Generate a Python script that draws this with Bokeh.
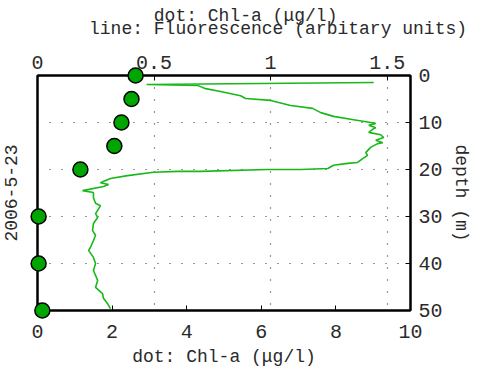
from bokeh.plotting import figure
from bokeh.models import Range1d, LinearAxis, FixedTicker
from bokeh.embed import file_html
from bokeh.resources import INLINE

# ---- data ----
chl_depth = [0, 5, 10, 15, 20, 30, 40, 50]
chl_value = [2.63, 2.52, 2.25, 2.06, 1.15, 0.03, 0.03, 0.13]

fl_value = [1.442, 0.468, 0.687, 0.721, 0.785, 0.871, 0.893, 1.000, 1.086, 1.180,
            1.215, 1.270, 1.356, 1.429, 1.451, 1.421, 1.451, 1.442, 1.421, 1.472,
            1.485, 1.451, 1.481, 1.459, 1.429, 1.408, 1.416, 1.395, 1.373, 1.330,
            1.270, 1.245, 1.129, 0.987, 0.700, 0.601, 0.498, 0.386, 0.313, 0.270,
            0.305, 0.283, 0.193, 0.240, 0.240, 0.249, 0.270, 0.258, 0.249, 0.258,
            0.240, 0.236, 0.249, 0.240, 0.227, 0.219, 0.240, 0.249, 0.240, 0.258,
            0.249, 0.279, 0.283, 0.300, 0.313]
fl_depth = [1.5, 1.9, 2.1, 2.8, 3.4, 4.3, 4.9, 5.3, 6.4, 7.0,
            7.9, 8.7, 9.4, 10.0, 10.2, 10.6, 11.1, 11.3, 12.1, 12.6,
            13.2, 13.8, 14.3, 14.5, 15.3, 16.4, 17.0, 17.7, 18.5, 18.7,
            19.1, 19.8, 20.0, 20.0, 20.4, 20.4, 20.6, 21.3, 21.9, 22.8,
            23.2, 23.6, 24.5, 24.9, 26.0, 27.2, 27.7, 28.7, 29.4, 30.2,
            31.5, 33.0, 34.0, 35.1, 36.6, 37.2, 38.7, 40.0, 41.5, 43.6,
            45.1, 46.4, 47.4, 48.5, 49.6]

bottom_ticks = [0, 2, 4, 6, 8, 10]
top_ticks = [0, 0.5, 1, 1.5]
top_tick_labels = ["0", "0.5", "1", "1.5"]
depth_ticks = [0, 10, 20, 30, 40, 50]
grid_x_ticks = [0.5, 1, 1.5]
grid_y_ticks = [10, 20, 30, 40]

title_line1 = "dot: Chl-a (\u03bcg/l)"
title_line2 = "line: Fluorescence (arbitary units)"
bottom_label = "dot: Chl-a (\u03bcg/l)"
right_label = "depth (m)"
left_label = "2006-5-23"

FONT = "Liberation Mono"
TXT = "#2a2a2a"

p = figure(width=477, height=370, output_backend="svg", toolbar_location=None,
           x_range=Range1d(0, 10), y_range=Range1d(50, 0),
           x_axis_location="below", y_axis_location="right",
           min_border_left=37, min_border_right=67, min_border_top=75, min_border_bottom=60,
           background_fill_color="white", border_fill_color="white")
p.extra_x_ranges = {"fl": Range1d(0, 1.6)}
p.outline_line_color = "black"
p.outline_line_width = 2

# bottom axis
xa = p.xaxis[0]
xa.ticker = FixedTicker(ticks=bottom_ticks)
xa.axis_label = bottom_label
# right axis
ya = p.yaxis[0]
ya.ticker = FixedTicker(ticks=depth_ticks)
ya.axis_label = right_label

# top axis; the two-line heading sits above it as its label.
# Monospace text: both lines padded with no-break spaces to the same length so that
# the centred block reproduces the indentation of the original heading.
NB = "\u00a0"
head1 = NB * 16 + title_line1 + NB * 12
head2 = NB * 10 + title_line2
ta = LinearAxis(x_range_name="fl", ticker=FixedTicker(ticks=top_ticks),
                major_label_overrides={t: s for t, s in zip(top_ticks, top_tick_labels)},
                axis_label=head1 + "\n" + head2)
p.add_layout(ta, "above")
# left axis (label only)
la = LinearAxis(ticker=FixedTicker(ticks=[]), axis_label=left_label)
p.add_layout(la, "left")

for ax in (xa, ya, ta, la):
    ax.axis_line_color = "black"
    ax.axis_line_width = 2
    ax.major_tick_in = 5
    ax.major_tick_out = 0
    ax.minor_tick_line_color = None
    ax.major_tick_line_color = "black"
    ax.major_tick_line_width = 1
    ax.major_label_text_font = FONT
    ax.major_label_text_font_size = "20px"
    ax.major_label_text_color = TXT
    ax.axis_label_text_font = FONT
    ax.axis_label_text_font_size = "18px"
    ax.axis_label_text_font_style = "normal"
    ax.axis_label_text_color = TXT

xa.major_label_standoff = 14
xa.axis_label_standoff = 6
ya.major_label_standoff = 8
ya.axis_label_standoff = 5
ta.major_label_standoff = 7
ta.axis_label_standoff = 14
ta.axis_label_text_line_height = 0.62
la.axis_label_standoff = 21

# grids: vertical at top-axis ticks, horizontal at depth ticks
p.xgrid.ticker = FixedTicker(ticks=grid_x_ticks)
p.xgrid.x_range_name = "fl"
p.ygrid.ticker = FixedTicker(ticks=grid_y_ticks)
for g in (p.xgrid[0], p.ygrid[0]):
    g.grid_line_color = "#333333"
    g.grid_line_width = 1.2
    g.grid_line_dash = "1 11"

# fluorescence line (top axis)
p.line(fl_value, fl_depth, x_range_name="fl", line_color="#19b819", line_width=1.6)
# chl-a dots (bottom axis), drawn unclipped over the frame border
dots = p.scatter(chl_value, chl_depth, size=15, marker="circle", fill_color="#00a600",
                 line_color="black", line_width=1.5, level="overlay")

open("out.html", "w").write(file_html(p, INLINE))
